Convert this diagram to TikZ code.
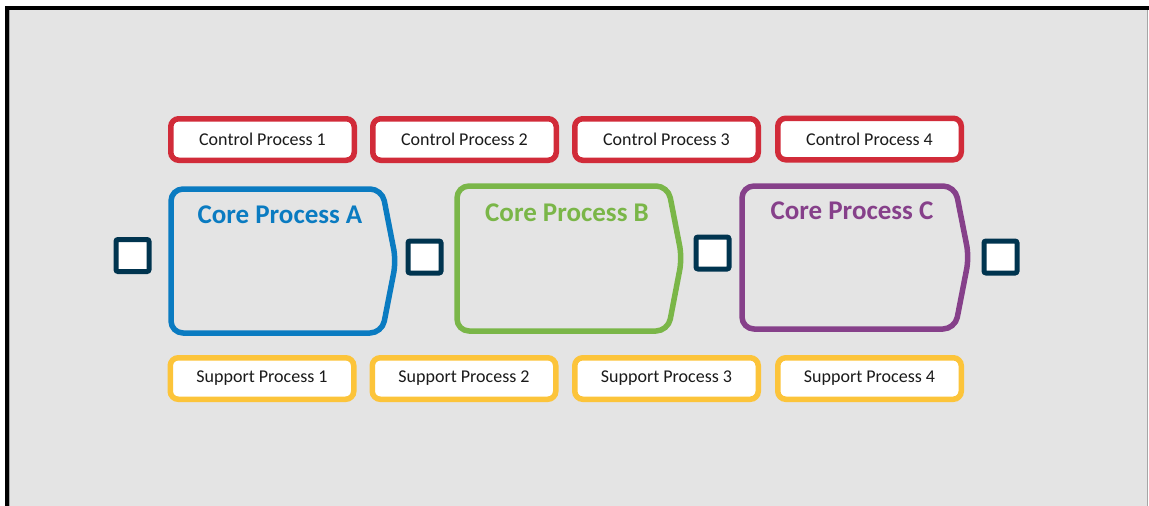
\documentclass[tikz,border=0pt]{standalone}
\usepackage{fontspec}
\setmainfont{Carlito}
\definecolor{canvas}{HTML}{E4E4E4}
\definecolor{ctrlred}{HTML}{D12B39}
\definecolor{suppyellow}{HTML}{FCC43A}
\definecolor{portnavy}{HTML}{00344F}
\definecolor{coreblue}{HTML}{0A7BC1}
\definecolor{coregreen}{HTML}{7AB648}
\definecolor{corepurple}{HTML}{86408A}
\definecolor{textdark}{HTML}{1A1A1A}
\begin{document}
\begin{tikzpicture}[x=1pt,y=-1pt,
  procbox/.style={draw, line width=5.5pt, fill=white, rounded corners=8pt,
    minimum width=183.5pt, minimum height=41.5pt, inner sep=0pt,
    text=textdark, font=\fontsize{18}{20}\selectfont},
  ctrl/.style={procbox, draw=ctrlred},
  supp/.style={procbox, draw=suppyellow},
  port/.style={draw=portnavy, fill=white, line width=5pt, minimum width=33pt,
    minimum height=32pt, rounded corners=2pt, inner sep=0pt},
  corepath/.style={line width=5.5pt, rounded corners=12pt, line join=round},
  coretitle/.style={anchor=base, inner sep=0pt, font=\bfseries\fontsize{27}{30}\selectfont}]
\useasboundingbox (0,0) rectangle (1149,506);
% canvas and frame
\fill[white] (0,0) rectangle (1149,506);
\fill[canvas] (9,9) rectangle (1147,506);
\draw[gray!70, line width=1pt] (9.5,506) -- (9.5,9.5) -- (1147.5,9.5) -- (1147.5,506);
\draw[black, line width=4pt] (7,506) -- (7,7.5) -- (1149,7.5);

% core processes
\draw[corepath, draw=coreblue] (171,189) -- (382,189) -- (396,261) -- (382,333) -- (171,333) -- cycle;
\draw[corepath, draw=coregreen] (457,186) -- (668,186) -- (682,258) -- (668,331) -- (457,331) -- cycle;
\draw[corepath, draw=corepurple] (742,186) -- (955,186) -- (969,257) -- (955,329) -- (742,329) -- cycle;
\node[coretitle, text=coreblue] (titleA) at (280,223) {Core Process A};
\node[coretitle, text=coregreen] (titleB) at (567,221) {Core Process B};
\node[coretitle, text=corepurple] (titleC) at (852,219) {Core Process C};

% ports between stages
\node[port] (p0) at (132.5,255.5) {};
\node[port] (p1) at (424.5,257) {};
\node[port] (p2) at (712.5,253) {};
\node[port] (p3) at (1000.5,257) {};

% control processes
\node[ctrl] (c1) at (262.5,139.5) {Control Process 1};
\node[ctrl] (c2) at (464.5,139.5) {Control Process 2};
\node[ctrl] (c3) at (666.5,139.5) {Control Process 3};
\node[ctrl] (c4) at (869.5,139) {Control Process 4};

% support processes
\node[supp] (s1) at (262,378.5) {Support Process 1};
\node[supp] (s2) at (464,378.5) {Support Process 2};
\node[supp] (s3) at (666.5,378.5) {Support Process 3};
\node[supp] (s4) at (869.5,378.5) {Support Process 4};
\end{tikzpicture}
\end{document}
